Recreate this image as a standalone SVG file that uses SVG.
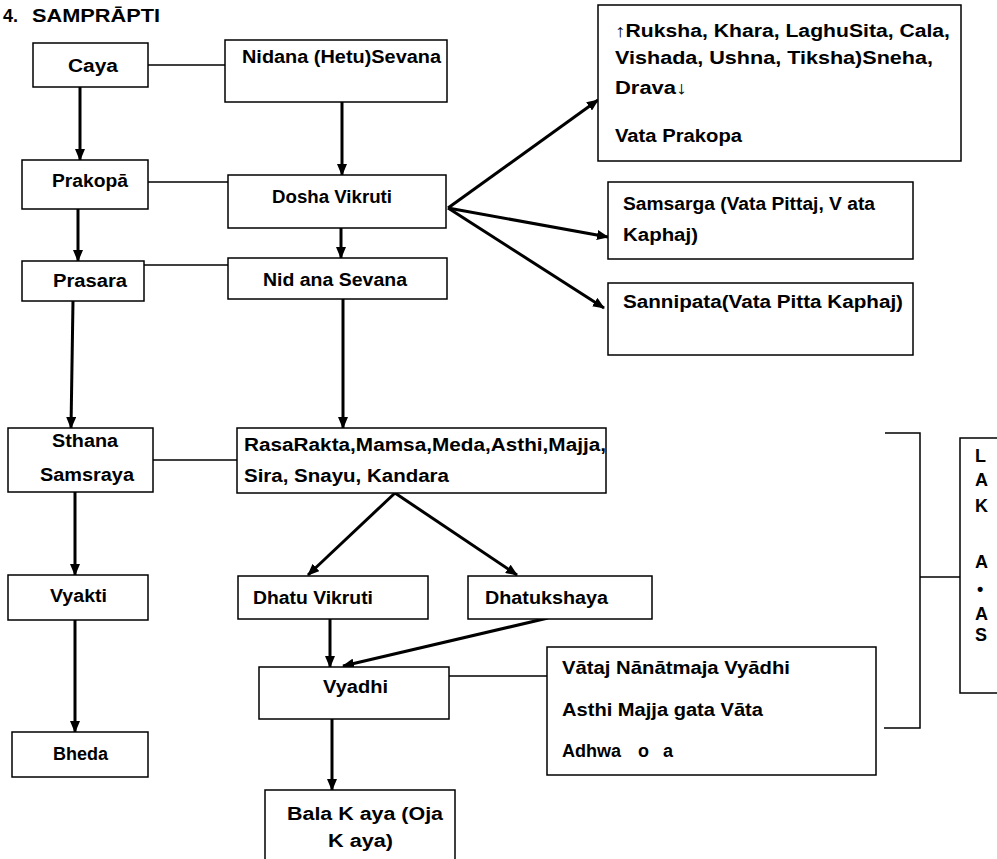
<svg xmlns="http://www.w3.org/2000/svg" width="997" height="859" viewBox="0 0 997 859">
<style>
.b{fill:#fff;stroke:#000;stroke-width:1.5}
.t{font-family:"Liberation Sans",Arial,sans-serif;font-weight:bold;font-size:18px;fill:#000}
.a{stroke:#000;stroke-width:3;fill:none;marker-end:url(#ah)}
.l{stroke:#000;stroke-width:1.5;fill:none}
</style>
<defs>
<marker id="ah" markerUnits="userSpaceOnUse" markerWidth="12" markerHeight="10" refX="11" refY="5" orient="auto">
<path d="M0,0 L12,5 L0,10 z" fill="#000"/>
</marker>
</defs>
<rect width="997" height="859" fill="#fff"/>
<text id="title" class="t" x="3" y="22" font-size="18">4.<tspan x="32" textLength="128" lengthAdjust="spacingAndGlyphs">SAMPRĀPTI</tspan></text>

<g id="connectors">
<line class="l" x1="148" y1="65" x2="225" y2="65"/>
<line class="l" x1="148" y1="182" x2="228" y2="182"/>
<line class="l" x1="144" y1="265" x2="228" y2="265"/>
<line class="l" x1="153" y1="460" x2="237" y2="460"/>
<line class="l" x1="449" y1="676" x2="547" y2="676"/>
<polyline class="l" points="885,433 920,433 920,728 884,728"/>
<line class="l" x1="920" y1="577" x2="960" y2="577"/>
<line class="a" x1="80" y1="87" x2="80" y2="160"/>
<line class="a" x1="342" y1="102" x2="342" y2="175"/>
<line class="a" x1="78" y1="209" x2="78" y2="261"/>
<line class="a" x1="341" y1="228" x2="341" y2="258"/>
<line class="a" x1="73" y1="301" x2="71" y2="428"/>
<line class="a" x1="343" y1="299" x2="343" y2="428"/>
<line class="a" x1="75" y1="492" x2="75" y2="575"/>
<line class="a" x1="75" y1="620" x2="75" y2="732"/>
<line class="a" x1="395" y1="493" x2="308" y2="575"/>
<line class="a" x1="395" y1="493" x2="517" y2="575"/>
<line class="a" x1="330" y1="619" x2="330" y2="667"/>
<line class="a" x1="548" y1="618" x2="343" y2="666"/>
<line class="a" x1="332" y1="719" x2="332" y2="790"/>
<line class="a" x1="448" y1="208" x2="598" y2="100"/>
<line class="a" x1="448" y1="208" x2="608" y2="237"/>
<line class="a" x1="448" y1="208" x2="604" y2="308"/>
</g>

<g id="caya"><rect class="b" x="33" y="43" width="115" height="44"/><text class="t" x="68" y="72" textLength="50" lengthAdjust="spacingAndGlyphs">Caya</text></g>
<g id="nidana"><rect class="b" x="225" y="40" width="222" height="62"/><text class="t" x="242" y="63" textLength="199" lengthAdjust="spacingAndGlyphs">Nidana (Hetu)Sevana</text></g>
<g id="prakopa"><rect class="b" x="22" y="160" width="126" height="49"/><text class="t" x="52" y="187" textLength="76" lengthAdjust="spacingAndGlyphs">Prakopā</text></g>
<g id="dosha"><rect class="b" x="228" y="175" width="218" height="53"/><text class="t" x="272" y="203" textLength="120" lengthAdjust="spacingAndGlyphs">Dosha Vikruti</text></g>
<g id="prasara"><rect class="b" x="22" y="261" width="122" height="40"/><text class="t" x="53" y="287" textLength="74" lengthAdjust="spacingAndGlyphs">Prasara</text></g>
<g id="nidana2"><rect class="b" x="228" y="258" width="219" height="41"/><text class="t" x="263" y="286" textLength="144" lengthAdjust="spacingAndGlyphs">Nid ana Sevana</text></g>
<g id="sthana"><rect class="b" x="8" y="428" width="145" height="64"/><text class="t" x="52" y="447" textLength="66" lengthAdjust="spacingAndGlyphs">Sthana</text><text class="t" x="40" y="481" textLength="94" lengthAdjust="spacingAndGlyphs">Samsraya</text></g>
<g id="rasa"><rect class="b" x="237" y="428" width="369" height="65"/><text class="t" x="244" y="451" textLength="362" lengthAdjust="spacingAndGlyphs">RasaRakta,Mamsa,Meda,Asthi,Majja,</text><text class="t" x="244" y="482" textLength="205" lengthAdjust="spacingAndGlyphs">Sira, Snayu, Kandara</text></g>
<g id="vyakti"><rect class="b" x="8" y="575" width="140" height="45"/><text class="t" x="50" y="602" textLength="57" lengthAdjust="spacingAndGlyphs">Vyakti</text></g>
<g id="bheda"><rect class="b" x="12" y="732" width="136" height="45"/><text class="t" x="53" y="760" textLength="55" lengthAdjust="spacingAndGlyphs">Bheda</text></g>
<g id="dhatuvikruti"><rect class="b" x="238" y="576" width="190" height="43"/><text class="t" x="253" y="604" textLength="120" lengthAdjust="spacingAndGlyphs">Dhatu Vikruti</text></g>
<g id="dhatukshaya"><rect class="b" x="468" y="576" width="184" height="43"/><text class="t" x="485" y="604" textLength="123" lengthAdjust="spacingAndGlyphs">Dhatukshaya</text></g>
<g id="vyadhi"><rect class="b" x="259" y="667" width="190" height="52"/><text class="t" x="323" y="693" textLength="65" lengthAdjust="spacingAndGlyphs">Vyadhi</text></g>
<g id="bala"><rect class="b" x="265" y="790" width="190" height="80"/><text class="t" x="287" y="820" textLength="156" lengthAdjust="spacingAndGlyphs">Bala K aya (Oja</text><text class="t" x="328" y="847" textLength="65" lengthAdjust="spacingAndGlyphs">K aya)</text></g>
<g id="vataprakopa"><rect class="b" x="598" y="5" width="363" height="156"/>
<text class="t" x="615" y="37" textLength="335" lengthAdjust="spacingAndGlyphs">↑Ruksha, Khara, LaghuSita, Cala,</text>
<text class="t" x="615" y="64" textLength="318" lengthAdjust="spacingAndGlyphs">Vishada, Ushna, Tiksha)Sneha,</text>
<text class="t" x="615" y="94" textLength="72" lengthAdjust="spacingAndGlyphs">Drava↓</text>
<text class="t" x="615" y="142" textLength="127" lengthAdjust="spacingAndGlyphs">Vata Prakopa</text></g>
<g id="samsarga"><rect class="b" x="608" y="182" width="305" height="77"/>
<text class="t" x="623" y="210" textLength="252" lengthAdjust="spacingAndGlyphs">Samsarga (Vata Pittaj, V ata</text>
<text class="t" x="623" y="241" textLength="75" lengthAdjust="spacingAndGlyphs">Kaphaj)</text></g>
<g id="sannipata"><rect class="b" x="608" y="283" width="305" height="72"/>
<text class="t" x="623" y="308" textLength="280" lengthAdjust="spacingAndGlyphs">Sannipata(Vata Pitta Kaphaj)</text></g>
<g id="vataj"><rect class="b" x="547" y="647" width="329" height="128"/>
<text class="t" x="562" y="674" textLength="228" lengthAdjust="spacingAndGlyphs">Vātaj Nānātmaja Vyādhi</text>
<text class="t" x="562" y="716" textLength="201" lengthAdjust="spacingAndGlyphs">Asthi Majja gata Vāta</text>
<text class="t" x="562" y="757">Adhwa<tspan x="638">o</tspan><tspan x="663">a</tspan></text></g>
<g id="lak"><rect class="b" x="960" y="438" width="60" height="255"/>
<text class="t" x="975" y="462" font-size="16">L</text>
<text class="t" x="975" y="486" font-size="16">A</text>
<text class="t" x="975" y="512" font-size="16">K</text>
<text class="t" x="975" y="568" font-size="16">A</text>
<text class="t" x="977" y="595" font-size="10">•</text>
<text class="t" x="975" y="620" font-size="16">A</text>
<text class="t" x="975" y="641" font-size="16">S</text></g>
</svg>
